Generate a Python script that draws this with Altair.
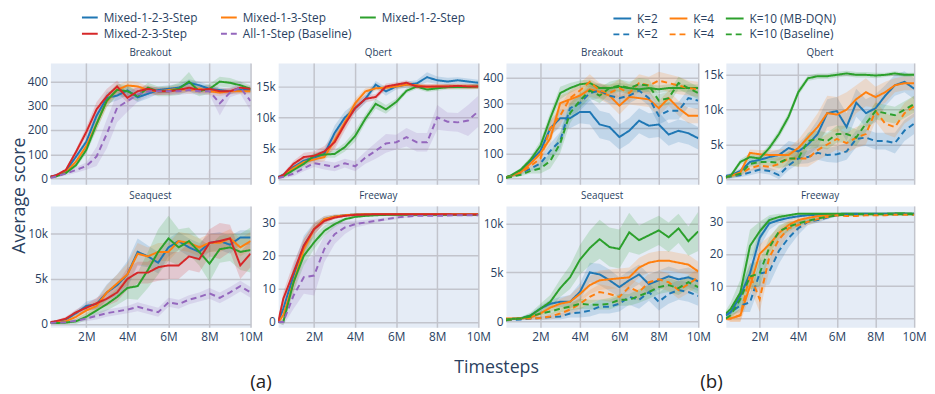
import altair as alt
import pandas as pd

# ---------------- data (x in millions of timesteps) ----------------
X_M = [0.25, 0.5, 1, 1.5, 2, 2.5, 3, 3.5, 4, 4.5, 5, 5.5, 6, 6.5, 7, 7.5, 8, 8.5, 9, 9.5, 10]

A_NAMES = ["Mixed-1-2-3-Step", "Mixed-1-3-Step", "Mixed-1-2-Step", "Mixed-2-3-Step", "All-1-Step (Baseline)"]
A_COLORS = ["#1f77b4", "#ff7f0e", "#2ca02c", "#d62728", "#9467bd"]
A_DASH = [[1, 0], [1, 0], [1, 0], [1, 0], [6, 4]]

B_NAMES = ["K=2", "K=4", "K=10 (MB-DQN)", "K=2 ", "K=4 ", "K=10 (Baseline)"]
B_COLORS = ["#1f77b4", "#ff7f0e", "#2ca02c", "#1f77b4", "#ff7f0e", "#2ca02c"]
B_DASH = [[1, 0], [1, 0], [1, 0], [6, 4], [6, 4], [6, 4]]

# (a) Breakout
a_brk_m123 = [8, 12, 30, 90, 152, 259, 333, 342, 364, 335, 350, 365, 370, 375, 395, 385, 370, 365, 360, 365, 365]
a_brk_m13 = [5, 10, 25, 70, 134, 225, 320, 366, 384, 380, 365, 360, 365, 370, 365, 370, 360, 355, 360, 360, 360]
a_brk_m12 = [5, 8, 22, 55, 118, 225, 322, 366, 360, 340, 375, 360, 360, 370, 400, 360, 370, 400, 395, 385, 370]
a_brk_m23 = [8, 12, 35, 110, 192, 286, 340, 380, 333, 360, 370, 360, 360, 365, 375, 365, 370, 360, 360, 375, 370]
a_brk_base = [2, 8, 20, 35, 51, 91, 185, 292, 320, 346, 360, 360, 360, 360, 365, 360, 360, 310, 355, 375, 320]
a_brk_m123_sd = [3, 4, 6, 10, 15, 25, 25, 20, 20, 20, 20, 15, 15, 15, 15, 15, 15, 12, 12, 12, 12]
a_brk_m13_sd = [3, 4, 6, 10, 15, 25, 25, 20, 20, 18, 15, 15, 15, 15, 15, 15, 15, 15, 12, 12, 12]
a_brk_m12_sd = [3, 4, 6, 10, 15, 25, 25, 25, 25, 20, 20, 20, 20, 25, 40, 20, 20, 20, 20, 15, 15]
a_brk_m23_sd = [3, 4, 6, 12, 20, 30, 30, 25, 20, 20, 15, 15, 15, 15, 15, 15, 15, 12, 12, 12, 12]
a_brk_base_sd = [3, 5, 8, 12, 15, 40, 60, 60, 45, 30, 20, 15, 15, 15, 15, 15, 15, 50, 20, 25, 40]

# (a) Qbert
a_qb_m123 = [400, 700, 2000, 3000, 3500, 4100, 7500, 10000, 11500, 13000, 15300, 14200, 15000, 15300, 15500, 16500, 16000, 15800, 16000, 15800, 15600]
a_qb_m13 = [300, 600, 1800, 2800, 3200, 3600, 6300, 9200, 12300, 14200, 14700, 14800, 15000, 15300, 15200, 14900, 15000, 15000, 15000, 15000, 15000]
a_qb_m12 = [300, 500, 1500, 2500, 3800, 4000, 4100, 5200, 7000, 9800, 12200, 11300, 12500, 14300, 15000, 14500, 14700, 14900, 14900, 14900, 15000]
a_qb_m23 = [300, 700, 2500, 3600, 3800, 4500, 6000, 8900, 11500, 13000, 13300, 15000, 15300, 15600, 15000, 15000, 15000, 15000, 15100, 15000, 15000]
a_qb_base = [200, 400, 900, 1800, 2600, 2300, 2000, 2600, 2100, 3500, 4600, 5800, 6000, 6800, 6000, 6000, 10000, 9300, 9200, 9500, 11000]
a_qb_m123_sd = [200, 300, 500, 600, 600, 800, 1200, 1000, 800, 700, 600, 700, 500, 500, 500, 800, 600, 600, 500, 500, 500]
a_qb_m13_sd = [200, 300, 500, 600, 600, 700, 1000, 900, 700, 500, 400, 400, 400, 400, 400, 400, 400, 400, 400, 400, 400]
a_qb_m12_sd = [200, 300, 400, 500, 500, 500, 600, 700, 900, 700, 800, 700, 500, 400, 400, 400, 400, 400, 400, 400, 400]
a_qb_m23_sd = [200, 300, 500, 700, 700, 900, 1200, 1000, 800, 600, 500, 500, 400, 400, 400, 400, 400, 400, 400, 400, 400]
a_qb_base_sd = [200, 300, 400, 500, 600, 700, 700, 700, 800, 1000, 1300, 1500, 1200, 1500, 1500, 1500, 2000, 1500, 1500, 2500, 2500]

# (a) Seaquest
a_sq_m123 = [200, 250, 500, 1200, 2000, 2200, 3500, 4300, 5500, 8000, 7500, 6800, 8500, 9200, 8500, 8000, 9000, 9200, 8800, 9600, 9600]
a_sq_m13 = [150, 200, 300, 800, 1500, 2000, 3500, 4500, 5500, 7800, 7500, 8000, 8000, 9200, 9000, 8500, 9000, 9000, 9500, 8500, 9200]
a_sq_m12 = [100, 100, 150, 300, 800, 1500, 2200, 3000, 4000, 4200, 6000, 8000, 9500, 8500, 9200, 8000, 6700, 8300, 8500, 8000, 8200]
a_sq_m23 = [200, 300, 600, 1300, 1800, 2300, 2800, 3500, 5000, 5700, 5700, 6300, 6500, 6500, 7500, 7200, 9000, 9200, 9500, 6500, 7800]
a_sq_base = [100, 150, 200, 350, 600, 900, 1200, 1400, 1600, 1900, 1600, 1300, 2400, 2200, 2700, 3000, 3400, 2900, 3500, 4200, 3500]
a_sq_m123_sd = [100, 100, 200, 300, 500, 600, 900, 1200, 1500, 1500, 1200, 1200, 1000, 1000, 1000, 1000, 1000, 1000, 1000, 800, 800]
a_sq_m13_sd = [100, 100, 200, 300, 500, 600, 800, 1000, 1200, 1200, 1000, 1000, 1000, 1000, 1000, 1000, 1000, 1000, 1000, 1000, 1000]
a_sq_m12_sd = [100, 100, 150, 300, 400, 500, 700, 900, 1200, 1500, 2000, 2500, 2500, 2000, 1500, 1500, 2000, 1500, 1500, 2000, 2500]
a_sq_m23_sd = [100, 100, 200, 300, 400, 600, 800, 1000, 1200, 1200, 1200, 1500, 1500, 1500, 1500, 1500, 1500, 2000, 1500, 1500, 1500]
a_sq_base_sd = [100, 100, 150, 200, 300, 400, 400, 400, 400, 500, 500, 500, 500, 500, 500, 500, 600, 600, 600, 600, 600]

# (a) Freeway
a_fw_m123 = [0, 4, 14, 23, 28, 31, 31.8, 32.2, 32.4, 32.5, 32.5, 32.5, 32.5, 32.5, 32.5, 32.5, 32.5, 32.5, 32.5, 32.5, 32.5]
a_fw_m13 = [0, 2, 12, 22, 28, 31, 31.8, 32.2, 32.4, 32.5, 32.5, 32.5, 32.5, 32.5, 32.5, 32.5, 32.5, 32.5, 32.5, 32.5, 32.5]
a_fw_m12 = [0, 0, 12, 20, 24, 27.5, 29.5, 31, 31.7, 32, 32.2, 32.3, 32.3, 32.3, 32.3, 32.3, 32.3, 32.3, 32.3, 32.3, 32.3]
a_fw_m23 = [0, 7, 15, 23, 28, 30.5, 31.5, 32, 32.3, 32.4, 32.5, 32.5, 32.5, 32.5, 32.5, 32.5, 32.5, 32.5, 32.4, 32.4, 32.4]
a_fw_base = [0, 0, 8, 13.5, 14, 22, 26.5, 28.5, 29.5, 30, 30.5, 31, 31.5, 31.8, 32, 32, 32, 32.1, 32.2, 32.2, 32.2]
a_fw_m123_sd = [0.3, 1.5, 3, 3, 2, 1, 0.6, 0.4, 0.3, 0.3, 0.3, 0.3, 0.3, 0.3, 0.3, 0.3, 0.3, 0.3, 0.3, 0.3, 0.3]
a_fw_m13_sd = [0.3, 1.5, 3, 3, 2, 1, 0.6, 0.4, 0.3, 0.3, 0.3, 0.3, 0.3, 0.3, 0.3, 0.3, 0.3, 0.3, 0.3, 0.3, 0.3]
a_fw_m12_sd = [0.3, 1, 3, 3, 2, 1.5, 1, 0.5, 0.3, 0.3, 0.3, 0.3, 0.3, 0.3, 0.3, 0.3, 0.3, 0.3, 0.3, 0.3, 0.3]
a_fw_m23_sd = [0.3, 2, 3, 2, 1.5, 1, 0.5, 0.3, 0.3, 0.3, 0.3, 0.3, 0.3, 0.3, 0.3, 0.3, 0.3, 0.3, 0.3, 0.3, 0.3]
a_fw_base_sd = [0.3, 1, 4, 5, 6, 4, 3, 2, 1, 0.8, 0.6, 0.5, 0.5, 0.4, 0.3, 0.3, 0.3, 0.3, 0.3, 0.3, 0.3]

# (b) Breakout
b_brk_k2 = [5, 10, 30, 70, 110, 200, 240, 240, 265, 265, 215, 205, 165, 190, 230, 210, 215, 175, 190, 180, 160]
b_brk_k4 = [5, 10, 25, 60, 100, 160, 300, 315, 330, 355, 345, 330, 290, 325, 320, 315, 280, 320, 280, 250, 250]
b_brk_k10 = [5, 12, 35, 75, 130, 240, 340, 360, 375, 380, 360, 360, 365, 360, 355, 360, 355, 360, 360, 360, 360]
b_brk_k2d = [3, 8, 20, 40, 60, 110, 150, 280, 300, 340, 350, 330, 320, 330, 350, 320, 250, 270, 270, 320, 310]
b_brk_k4d = [3, 8, 22, 50, 80, 200, 250, 320, 350, 385, 350, 340, 360, 340, 380, 370, 390, 380, 370, 360, 355]
b_brk_k10d = [3, 6, 15, 30, 40, 70, 140, 260, 310, 350, 330, 360, 370, 360, 375, 370, 310, 320, 380, 360, 340]
b_brk_k2_sd = [3, 5, 8, 12, 20, 30, 35, 40, 45, 50, 55, 55, 50, 50, 50, 50, 50, 45, 45, 45, 45]
b_brk_k4_sd = [3, 5, 8, 12, 20, 25, 30, 30, 30, 30, 30, 35, 35, 30, 30, 30, 30, 30, 30, 30, 30]
b_brk_k10_sd = [3, 5, 8, 12, 20, 25, 25, 20, 15, 15, 15, 15, 15, 15, 15, 15, 15, 15, 15, 15, 15]
b_brk_k2d_sd = [3, 4, 6, 10, 20, 30, 35, 30, 30, 30, 30, 30, 30, 30, 30, 30, 35, 35, 35, 35, 35]
b_brk_k4d_sd = [3, 4, 6, 10, 20, 30, 40, 30, 30, 30, 30, 30, 35, 35, 35, 35, 35, 35, 35, 30, 30]
b_brk_k10d_sd = [3, 4, 6, 10, 20, 30, 40, 40, 30, 30, 30, 25, 25, 25, 25, 25, 25, 25, 25, 25, 25]

# (b) Qbert
b_qb_k2 = [500, 600, 1200, 2500, 2800, 3200, 3500, 4500, 4000, 5000, 6500, 9500, 9800, 7500, 11000, 9500, 10200, 12000, 13500, 14000, 13000]
b_qb_k4 = [300, 500, 1000, 3800, 3600, 3500, 3500, 3500, 4500, 6000, 7500, 9500, 9300, 10000, 11500, 12500, 11800, 12500, 13500, 13800, 13800]
b_qb_k10 = [300, 500, 2500, 3200, 3000, 4500, 6500, 9000, 12500, 14500, 14800, 14800, 15000, 15200, 15000, 15000, 14900, 15000, 15200, 15000, 15000]
b_qb_k2d = [300, 400, 600, 1000, 1400, 1200, 600, 2000, 3000, 3200, 3800, 3500, 3600, 4000, 5800, 6000, 5500, 5500, 5200, 7000, 8000]
b_qb_k4d = [300, 500, 800, 1600, 2000, 1800, 2200, 3000, 3000, 3000, 4200, 5000, 5800, 5200, 6000, 6500, 9800, 8000, 7500, 9500, 10500]
b_qb_k10d = [300, 500, 800, 2200, 2500, 2500, 2400, 3000, 3000, 5500, 5800, 5500, 6500, 6500, 6000, 8000, 9800, 9500, 9200, 10000, 10800]
b_qb_k2_sd = [200, 300, 400, 500, 600, 700, 800, 1000, 1200, 1500, 2000, 2000, 2000, 2000, 2000, 2000, 2000, 1500, 1500, 1500, 1500]
b_qb_k4_sd = [200, 300, 400, 500, 600, 700, 800, 1000, 1200, 1500, 2000, 2500, 2500, 2500, 2000, 2000, 1500, 1500, 1000, 1000, 1000]
b_qb_k10_sd = [200, 300, 400, 500, 500, 500, 600, 600, 500, 400, 400, 400, 400, 400, 400, 400, 400, 300, 300, 300, 300]
b_qb_k2d_sd = [200, 300, 300, 400, 500, 500, 600, 700, 800, 900, 1000, 1000, 1200, 1200, 1200, 1200, 1200, 1200, 1500, 1500, 1500]
b_qb_k4d_sd = [200, 300, 300, 400, 500, 600, 800, 1000, 1200, 1200, 1500, 1500, 1500, 1500, 1500, 1500, 1500, 1500, 1500, 1500, 1500]
b_qb_k10d_sd = [200, 300, 300, 400, 500, 600, 800, 1000, 1200, 1200, 1200, 1200, 1200, 1200, 1200, 1200, 1200, 1200, 1200, 1200, 1200]

# (b) Seaquest
b_sq_k2 = [200, 250, 300, 600, 1300, 1800, 2000, 2000, 3000, 5000, 4800, 4200, 3500, 4200, 4800, 3800, 4200, 4600, 4300, 4500, 4100]
b_sq_k4 = [300, 300, 300, 400, 800, 1400, 1800, 2000, 2800, 3700, 4200, 4300, 4400, 4500, 5500, 6000, 6200, 6200, 6000, 5800, 5100]
b_sq_k10 = [200, 250, 300, 600, 1300, 2000, 3400, 4500, 6300, 7500, 8400, 7600, 7400, 9100, 8300, 8800, 9300, 8600, 9500, 8200, 9200]
b_sq_k2d = [100, 150, 200, 300, 350, 450, 500, 800, 900, 1100, 1500, 1500, 1800, 2500, 2200, 3000, 2000, 2800, 3200, 3000, 2600]
b_sq_k4d = [100, 200, 300, 300, 350, 500, 800, 1200, 1800, 2500, 3000, 2800, 2500, 3500, 3000, 4000, 4300, 4000, 3200, 3800, 4500]
b_sq_k10d = [100, 200, 300, 500, 800, 1000, 1300, 1500, 1800, 1700, 1700, 1800, 2200, 2200, 2600, 3000, 3500, 3700, 3400, 4000, 3500]
b_sq_k2_sd = [100, 100, 150, 200, 300, 400, 500, 700, 900, 1000, 1100, 1100, 1000, 1000, 1000, 1000, 1000, 1000, 1000, 1000, 1000]
b_sq_k4_sd = [100, 100, 150, 200, 300, 400, 500, 700, 800, 900, 1000, 1000, 1000, 1000, 1000, 1000, 1000, 1000, 1000, 1000, 1000]
b_sq_k10_sd = [100, 100, 150, 300, 500, 700, 900, 1200, 1500, 1800, 2000, 2000, 2000, 2000, 1500, 1500, 1500, 1500, 1500, 1500, 2000]
b_sq_k2d_sd = [50, 100, 100, 150, 200, 250, 300, 400, 500, 600, 700, 700, 800, 800, 900, 900, 900, 1000, 1000, 1000, 1000]
b_sq_k4d_sd = [50, 100, 100, 150, 200, 300, 400, 500, 600, 700, 800, 800, 800, 900, 900, 900, 900, 900, 900, 900, 900]
b_sq_k10d_sd = [50, 100, 100, 150, 200, 300, 400, 400, 500, 500, 500, 600, 600, 600, 700, 700, 700, 700, 700, 700, 700]

# (b) Freeway
b_fw_k2 = [1, 2, 7, 14, 25, 29.5, 30.5, 31.2, 31.7, 32, 32.2, 32.3, 32.4, 32.5, 32.5, 32.5, 32.5, 32.5, 32.5, 32.5, 32.5]
b_fw_k4 = [0, 0, 1, 10, 20, 23, 26.5, 29, 30.5, 31.2, 31.7, 32, 32.2, 32.3, 32.4, 32.4, 32.4, 32.4, 32.4, 32.4, 32.4]
b_fw_k10 = [1.5, 3, 8, 22.5, 27, 30.5, 31.5, 32, 32.5, 32.5, 32.5, 32.5, 32.5, 32.5, 32.5, 32.5, 32.5, 32.5, 32.6, 32.6, 32.5]
b_fw_k2d = [1, 2, 4, 5, 14, 14.5, 21, 25, 28, 30, 30.5, 31.3, 32, 32.2, 32.3, 32.3, 32.3, 32.3, 32.3, 32.3, 32.3]
b_fw_k4d = [0, 0, 1, 13.5, 6, 19, 24.5, 28, 29, 30, 30.8, 31.5, 32, 31.8, 31.8, 32, 32, 32, 32.2, 32.2, 32.2]
b_fw_k10d = [0, 1, 6, 13, 14, 22, 27, 28.5, 29.5, 30.3, 31, 31.5, 32, 32.2, 32.3, 32.3, 32.3, 32.3, 32.3, 32.3, 32.3]
b_fw_k2_sd = [0.5, 1, 2, 3, 3, 2, 1, 0.8, 0.5, 0.3, 0.3, 0.3, 0.3, 0.3, 0.3, 0.3, 0.3, 0.3, 0.3, 0.3, 0.3]
b_fw_k4_sd = [0.5, 1, 2, 3, 3, 2.5, 2, 1.5, 1, 0.5, 0.3, 0.3, 0.3, 0.3, 0.3, 0.3, 0.3, 0.3, 0.3, 0.3, 0.3]
b_fw_k10_sd = [1, 2, 4, 5, 3, 1.5, 1, 0.5, 0.3, 0.3, 0.3, 0.3, 0.3, 0.3, 0.3, 0.3, 0.3, 0.3, 0.3, 0.3, 0.3]
b_fw_k2d_sd = [0.5, 1, 2, 3, 4, 4, 4, 3, 2, 1, 0.8, 0.5, 0.3, 0.3, 0.3, 0.3, 0.3, 0.3, 0.3, 0.3, 0.3]
b_fw_k4d_sd = [0.5, 1, 2, 4, 4, 4, 3, 2, 1.5, 1, 0.8, 0.5, 0.3, 0.3, 0.3, 0.3, 0.3, 0.3, 0.3, 0.3, 0.3]
b_fw_k10d_sd = [0.5, 1, 3, 4, 4, 3, 2, 1.5, 1, 0.8, 0.5, 0.3, 0.3, 0.3, 0.3, 0.3, 0.3, 0.3, 0.3, 0.3, 0.3]

X_TICKS = [2, 4, 6, 8, 10]

# ---------------- styling ----------------
FONT = "Open Sans"
TXT = "#2a3f5f"
ROW_H = 123
COL_W = [203, 203, 195, 191]
LEG_Y = -55


def make_df(names, means, spreads):
    rows = []
    for name, m, s in zip(names, means, spreads):
        for x, v, d in zip(X_M, m, s):
            rows.append({"x": x * 1e6, "series": name, "band": name + "|band",
                         "mean": v, "lo": v - d, "hi": v + d})
    return pd.DataFrame(rows)


def panel(title, names, colors, dashes, means, spreads, ydom, yticks, width,
          bottom, leg=None, ytitle=None, xtitle=None, title_offset=5):
    df = make_df(names, means, spreads)
    xkw = dict(values=[v * 1e6 for v in X_TICKS], format="~s", labels=bottom,
               labelFlush=False, labelPadding=4, grid=True, title="")
    if xtitle:
        xkw.update(xtitle)
    ykw = dict(values=yticks, format="~s", labelExpr="datum.value == 0 ? '0' : datum.label",
               labelFlush=False, labelPadding=3, grid=True, title="")
    if ytitle:
        ykw.update(ytitle)
    xscale = alt.Scale(domain=[0.25e6, 10e6], nice=False, zero=False)
    yscale = alt.Scale(domain=ydom, nice=False, zero=False)
    xenc = alt.X("x:Q", scale=xscale, axis=alt.Axis(**xkw))

    band = alt.Chart(df).mark_area(opacity=0.18, clip=True).encode(
        x=xenc,
        y=alt.Y("lo:Q", scale=yscale, axis=alt.Axis(**ykw)),
        y2="hi:Q",
        fill=alt.Fill("band:N", scale=alt.Scale(domain=[n + "|band" for n in names], range=colors),
                      legend=None),
    )
    line = alt.Chart(df).mark_line(strokeWidth=2, clip=True).encode(
        x=xenc,
        y=alt.Y("mean:Q", scale=yscale, axis=alt.Axis(**ykw)),
        color=alt.Color("series:N", scale=alt.Scale(domain=names, range=colors), legend=leg),
        strokeDash=alt.StrokeDash("series:N", scale=alt.Scale(domain=names, range=dashes), legend=leg),
    )
    return alt.layer(band, line).properties(
        width=width, height=ROW_H,
        title=alt.TitleParams(text=title, fontSize=10, font=FONT, color=TXT,
                              fontWeight="normal", offset=title_offset, frame="group",
                              anchor="middle"),
    )


def make_legend(x, y, col_pad, row_pad, grid_align, sym):
    return alt.Legend(title=None, orient="none", legendX=x, legendY=y, direction="horizontal",
                      columns=3, symbolType="stroke", symbolSize=sym * sym, symbolStrokeWidth=2,
                      labelFont=FONT, labelFontSize=12, labelColor=TXT, labelOffset=5,
                      rowPadding=row_pad, columnPadding=col_pad, gridAlign=grid_align,
                      padding=0, labelLimit=250)


A_LEG = make_legend(31, LEG_Y, 4, 1.3, "all", 16)
B_LEG = make_legend(108, LEG_Y, 7, 0, "each", 18)

big_title = dict(titleFont=FONT, titleFontSize=18, titleFontWeight="normal", titleColor=TXT,
                 titleBaseline="middle", titleAlign="center")
lab_title = dict(titleFont=FONT, titleFontSize=19, titleFontWeight="normal", titleColor="#222222",
                 titleBaseline="middle", titleAlign="center")

p1 = panel("Breakout", A_NAMES, A_COLORS, A_DASH,
           [a_brk_m123, a_brk_m13, a_brk_m12, a_brk_m23, a_brk_base],
           [a_brk_m123_sd, a_brk_m13_sd, a_brk_m12_sd, a_brk_m23_sd, a_brk_base_sd],
           [-24, 477], [0, 100, 200, 300, 400], COL_W[0], False, leg=A_LEG,
           ytitle=dict(title="Average score", titleX=-31, titleY=134, titleAngle=270, **big_title),
           title_offset=5 + LEG_Y)
p2 = panel("Qbert", A_NAMES, A_COLORS, A_DASH,
           [a_qb_m123, a_qb_m13, a_qb_m12, a_qb_m23, a_qb_base],
           [a_qb_m123_sd, a_qb_m13_sd, a_qb_m12_sd, a_qb_m23_sd, a_qb_base_sd],
           [-800, 18800], [0, 5000, 10000, 15000], COL_W[1], False)
p3 = panel("Breakout", B_NAMES, B_COLORS, B_DASH,
           [b_brk_k2, b_brk_k4, b_brk_k10, b_brk_k2d, b_brk_k4d, b_brk_k10d],
           [b_brk_k2_sd, b_brk_k4_sd, b_brk_k10_sd, b_brk_k2d_sd, b_brk_k4d_sd, b_brk_k10d_sd],
           [-23, 460], [0, 100, 200, 300, 400], COL_W[2], False, leg=B_LEG,
           title_offset=5 + LEG_Y)
p4 = panel("Qbert", B_NAMES, B_COLORS, B_DASH,
           [b_qb_k2, b_qb_k4, b_qb_k10, b_qb_k2d, b_qb_k4d, b_qb_k10d],
           [b_qb_k2_sd, b_qb_k4_sd, b_qb_k10_sd, b_qb_k2d_sd, b_qb_k4d_sd, b_qb_k10d_sd],
           [-700, 16700], [0, 5000, 10000, 15000], COL_W[3], False)
p5 = panel("Seaquest", A_NAMES, A_COLORS, A_DASH,
           [a_sq_m123, a_sq_m13, a_sq_m12, a_sq_m23, a_sq_base],
           [a_sq_m123_sd, a_sq_m13_sd, a_sq_m12_sd, a_sq_m23_sd, a_sq_base_sd],
           [-360, 13100], [0, 5000, 10000], COL_W[0], True,
           xtitle=dict(title="(a)", titleX=213, titleY=55, **lab_title))
p6 = panel("Freeway", A_NAMES, A_COLORS, A_DASH,
           [a_fw_m123, a_fw_m13, a_fw_m12, a_fw_m23, a_fw_base],
           [a_fw_m123_sd, a_fw_m13_sd, a_fw_m12_sd, a_fw_m23_sd, a_fw_base_sd],
           [-1.6, 35], [0, 10, 20, 30], COL_W[1], True,
           xtitle=dict(title="Timesteps", titleX=221, titleY=41, **big_title))
p7 = panel("Seaquest", B_NAMES, B_COLORS, B_DASH,
           [b_sq_k2, b_sq_k4, b_sq_k10, b_sq_k2d, b_sq_k4d, b_sq_k10d],
           [b_sq_k2_sd, b_sq_k4_sd, b_sq_k10_sd, b_sq_k2d_sd, b_sq_k4d_sd, b_sq_k10d_sd],
           [-600, 11800], [0, 5000, 10000], COL_W[2], True,
           xtitle=dict(title="(b)", titleX=208, titleY=55, **lab_title))
p8 = panel("Freeway", B_NAMES, B_COLORS, B_DASH,
           [b_fw_k2, b_fw_k4, b_fw_k10, b_fw_k2d, b_fw_k4d, b_fw_k10d],
           [b_fw_k2_sd, b_fw_k4_sd, b_fw_k10_sd, b_fw_k2d_sd, b_fw_k4d_sd, b_fw_k10d_sd],
           [-2.7, 34.9], [0, 10, 20, 30], COL_W[3], True)

chart = alt.concat(
    p1, p2, p3, p4, p5, p6, p7, p8,
    columns=4, spacing={"row": 22, "column": 28}, bounds="flush", align="each",
).resolve_scale(
    color="independent", strokeDash="independent", fill="independent",
    x="independent", y="independent",
).properties(
    padding={"left": 2, "top": -3, "right": 0, "bottom": 0},
).configure_view(
    fill="#E5ECF6", stroke="transparent",
).configure_axis(
    domain=False, ticks=False, gridColor="#c2c4cc", gridWidth=1.5,
    labelFont=FONT, labelFontSize=12, labelColor=TXT,
)

chart.save("out.html", embed_options={"renderer": "svg", "actions": False})
